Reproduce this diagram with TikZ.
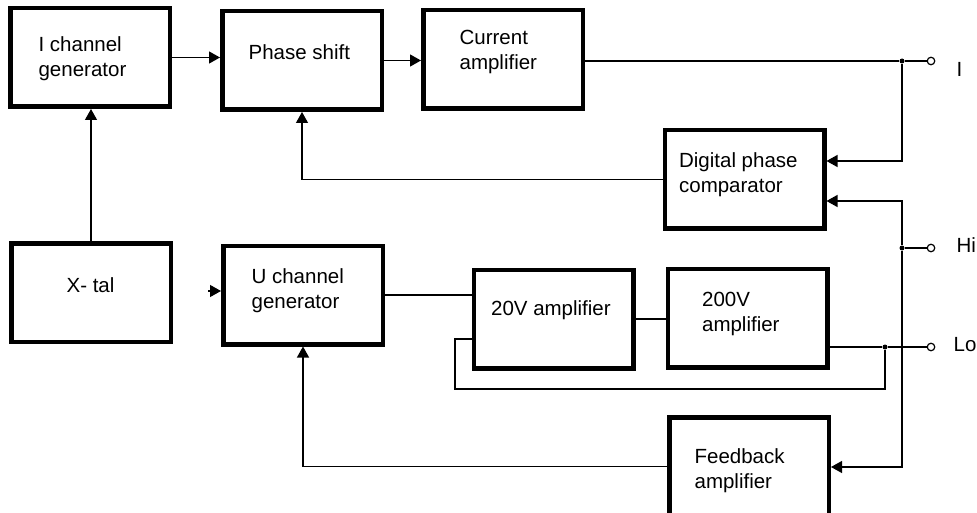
\documentclass[tikz,border=0pt]{standalone}
\usepackage{fontspec}
\setmainfont{Liberation Sans}
\usetikzlibrary{arrows.meta}

\begin{document}
\begin{tikzpicture}[x=1pt, y=-1pt, line width=1.2pt,
  blk/.style={draw, line width=4.5pt, minimum width=159.5pt, minimum height=98.5pt, inner sep=0pt},
  lbl/.style={anchor=north west, align=left, inner sep=0pt, font=\fontsize{20.5}{25}\selectfont},
  arr/.style={-{Triangle[length=11pt,width=12pt]}},
  term/.style={circle, draw, line width=1.2pt, inner sep=0pt, minimum size=7.5pt},
  jdot/.style={circle, fill, inner sep=0pt, minimum size=5pt}]
\useasboundingbox (0,0) rectangle (977,513);

\node[blk] (ig) at (90,57.5) {};
\node[blk] (ps) at (302,60.5) {};
\node[blk] (ca) at (503,59.5) {};
\node[blk] (dpc) at (744.5,179.5) {};
\node[blk] (xt) at (91,292.5) {};
\node[blk] (ug) at (303,295) {};
\node[blk] (a20) at (553.5,319) {};
\node[blk] (a200) at (747.5,318) {};
\node[blk] (fb) at (749,466.5) {};

\node[lbl] (tig) at ([shift={(30,30)}]ig.north west) {I channel\\generator};
\node[lbl] (tps) at ([shift={(28,35)}]ps.north west) {Phase shift};
\node[lbl] (tca) at ([shift={(38,22)}]ca.north west) {Current\\amplifier};
\node[lbl] (tdpc) at ([shift={(16,24)}]dpc.north west) {Digital phase\\comparator};
\node[lbl] (txt) at ([shift={(57,36)}]xt.north west) {X- tal};
\node[lbl] (tug) at ([shift={(30,25)}]ug.north west) {U channel\\generator};
\node[lbl] (ta20) at ([shift={(19,33)}]a20.north west) {20V amplifier};
\node[lbl] (ta200) at ([shift={(36,25)}]a200.north west) {200V\\amplifier};
\node[lbl] (tfb) at ([shift={(27,33)}]fb.north west) {Feedback\\amplifier};

\node[jdot] (jI) at (902,61) {};
\node[jdot] (jHi) at (902,248) {};
\node[jdot] (jLo) at (885,347) {};
\node[term] (tI) at (931,61) {};
\node[term] (tHi) at (931,248) {};
\node[term] (tLo) at (931,347) {};
\node[lbl, anchor=base west] (lI) at (956,77) {I};
\node[lbl, anchor=base west] (lHi) at (956,252) {Hi};
\node[lbl, anchor=base west] (lLo) at (953,351) {Lo};
\coordinate (xin) at (208,291);

\draw[arr] (ig.east) -- (ig.east -| ps.west);
\draw[arr] (ps.east) -- (ps.east -| ca.west);
\draw[arr] (xt.north) -- (xt.north |- ig.south);
\draw[arr] (xin) -- (ug.west |- xin);
\draw (ca.east |- jI) -- (jI) -- (tI);
\draw[arr] (jI) |- (dpc.east |- 0,161);
\draw[arr] (jHi) |- (dpc.east |- 0,201);
\draw[arr] (jHi) |- (fb.east |- 0,467);
\draw (jHi) -- (tHi);
\draw[arr] (dpc.west) -| (ps.south);
\draw[arr] (fb.west) -| (ug.south);
\draw (ug.east) -- (ug.east -| a20.west);
\draw (a20.east) -- (a20.east -| a200.west);
\draw (a200.east |- jLo) -- (jLo) -- (tLo);
\draw (jLo) |- (455,389) |- (a20.west |- 0,339);
\end{tikzpicture}
\end{document}
